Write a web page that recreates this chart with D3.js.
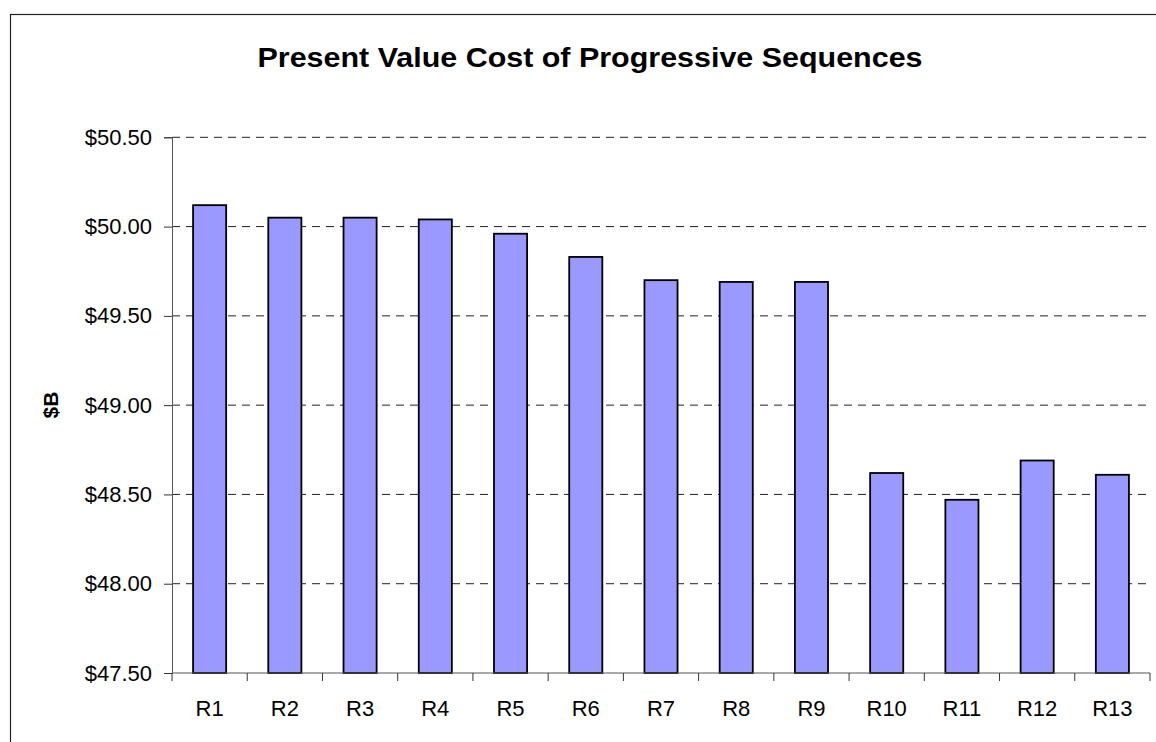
<!DOCTYPE html>
<html>
<head>
<meta charset="utf-8">
<script src="https://cdn.jsdelivr.net/npm/d3@7"></script>
<style>
  body { margin: 0; background: #fff; }
  text { font-family: Arial, 'Liberation Sans', sans-serif; fill: #000; }
</style>
</head>
<body>
<div class="chart"></div>
<script>
// data
const categories = ['R1', 'R2', 'R3', 'R4', 'R5', 'R6', 'R7', 'R8', 'R9', 'R10', 'R11', 'R12', 'R13'];
const costs = [50.12, 50.05, 50.05, 50.04, 49.96, 49.83, 49.70, 49.69, 49.69, 48.62, 48.47, 48.69, 48.61];
const yTicks = [47.5, 48.0, 48.5, 49.0, 49.5, 50.0, 50.5];

const width = 1156, height = 742;
const plot = { left: 172, right: 1150, top: 137.3, bottom: 673 };

// svg and outer frame
function createSvg() {
  const svg = d3.select('.chart').append('svg')
                .attr('width', width)
                .attr('height', height);
  svg.append('rect')
     .attr('x', 10.5).attr('y', 14.5)
     .attr('width', 1160).attr('height', 760)
     .attr('fill', 'none').attr('stroke', '#222').attr('stroke-width', 1.2);
  return svg;
}

const svg = createSvg();

const x = d3.scaleBand().domain(categories)
            .range([plot.left, plot.right])
            .paddingInner(0.56).paddingOuter(0.28);
const y = d3.scaleLinear().domain([47.5, 50.5]).range([plot.bottom, plot.top]);
const money = v => '$' + d3.format('.2f')(v);

// dashed gridlines
svg.append('g').selectAll('line').data(yTicks.slice(1)).enter().append('line')
   .attr('x1', plot.left).attr('x2', plot.right - 2)
   .attr('y1', d => y(d)).attr('y2', d => y(d))
   .attr('stroke', '#222').attr('stroke-dasharray', '8,6');

// y axis
const yAxis = svg.append('g')
                 .attr('transform', 'translate(' + plot.left + ',0)')
                 .call(d3.axisLeft(y).tickValues(yTicks).tickFormat(money).tickSize(8).tickPadding(12));
yAxis.select('.domain').attr('stroke', '#555');
yAxis.selectAll('.tick line').attr('stroke', '#333');
yAxis.selectAll('.tick text').attr('font-size', 22).attr('fill', '#000');

// bars
svg.append('g').selectAll('rect').data(costs).enter().append('rect')
   .attr('x', (d, i) => x(categories[i]))
   .attr('y', d => y(d))
   .attr('width', x.bandwidth())
   .attr('height', d => y(47.5) - y(d))
   .attr('fill', '#9999FF')
   .attr('stroke', '#000').attr('stroke-width', 1.8);

// x axis: ticks between categories
const xAxis = svg.append('g').attr('transform', 'translate(0,' + plot.bottom + ')');
xAxis.append('line')
     .attr('x1', plot.left).attr('x2', plot.right)
     .attr('stroke', '#555');
xAxis.selectAll('.tick').data(d3.range(categories.length + 1)).enter().append('line')
     .attr('x1', i => plot.left + i * x.step()).attr('x2', i => plot.left + i * x.step())
     .attr('y1', 0).attr('y2', 8)
     .attr('stroke', '#333');
xAxis.selectAll('text').data(categories).enter().append('text')
     .attr('x', d => x(d) + x.bandwidth() / 2)
     .attr('y', 43)
     .attr('text-anchor', 'middle')
     .attr('font-size', 22)
     .text(d => d);

// titles
svg.append('text')
   .attr('x', 590).attr('y', 67)
   .attr('text-anchor', 'middle')
   .attr('font-size', 28).attr('font-weight', 'bold')
   .attr('textLength', 665).attr('lengthAdjust', 'spacingAndGlyphs')
   .text('Present Value Cost of Progressive Sequences');

svg.append('text')
   .attr('transform', 'translate(58,405) rotate(-90)')
   .attr('text-anchor', 'middle')
   .attr('font-size', 21).attr('font-weight', 'bold')
   .text('$B');
</script>
</body>
</html>
